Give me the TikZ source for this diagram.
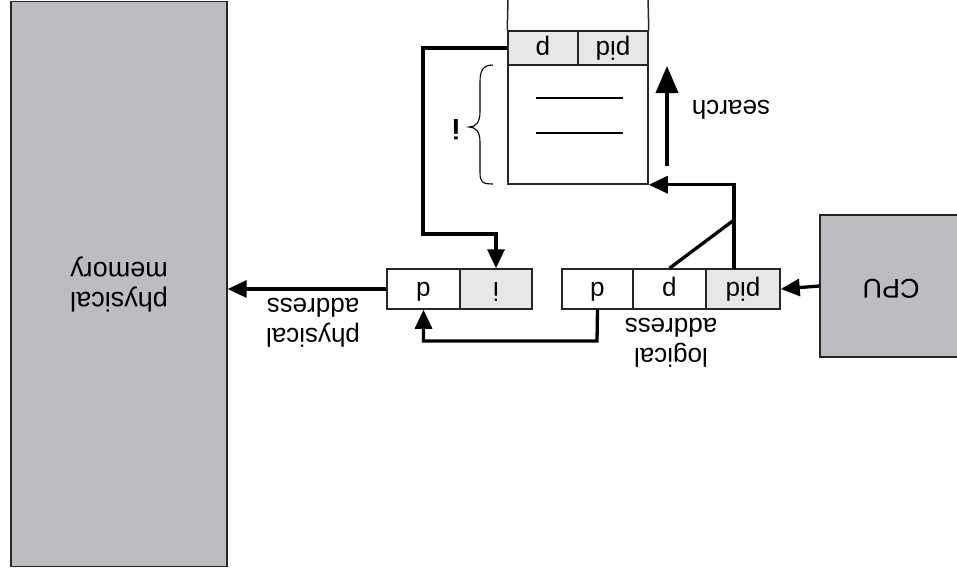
\documentclass[tikz,border=0pt]{standalone}
\usepackage{fontspec}
\setmainfont{Liberation Sans}
\usetikzlibrary{arrows.meta}
\definecolor{dgray}{HTML}{BCBDC1}
\definecolor{lgray}{HTML}{E6E7E8}
\newcommand{\updown}[1]{\rotatebox{180}{\vphantom{dp}#1}}
\tikzset{
  cell/.style={draw=black!85, line width=1.5pt, minimum height=40pt, inner sep=0pt, font=\fontsize{26}{28}\selectfont},
  bigbox/.style={draw=black!85, line width=1.3pt, fill=dgray, inner sep=0pt, align=center, font=\fontsize{27}{31}\selectfont},
  conn/.style={line width=3.3pt, -{Triangle[length=19pt,width=17pt]}},
  bigconn/.style={line width=3.8pt, -{Triangle[length=27pt,width=22pt]}},
  plainline/.style={line width=3.3pt},
  lbl/.style={rotate=180, align=center, font=\fontsize{26}{30}\selectfont}
}
\begin{document}
\begin{tikzpicture}[x=1pt,y=-1pt]
\useasboundingbox (0,0) rectangle (957,573);
% physical memory
\node[bigbox, minimum width=216pt, minimum height=565pt] (mem) at (119,284) {\rotatebox{180}{\begin{tabular}{@{}c@{}}physical\\[-1pt]memory\end{tabular}}};
% CPU
\node[bigbox, minimum width=142pt, minimum height=142pt] (cpu) at (891,286) {\updown{CPU}};
% logical address (pid | p | d, drawn upside down)
\node[cell, minimum width=71pt] (ldc) at (597.5,289) {\updown{d}};
\node[cell, minimum width=73pt] (lpc) at (669.5,289) {\updown{p}};
\node[cell, fill=lgray, minimum width=74pt] (lpid) at (743,289) {\updown{pid}};
% physical address (i | d)
\node[cell, minimum width=73pt] (pd) at (423.5,289) {\updown{d}};
\node[cell, fill=lgray, minimum width=72pt] (pi) at (496,289) {\updown{i}};
% table
\node[cell, fill=lgray, minimum width=70pt, minimum height=34pt] (tp) at (543,48) {\updown{p}};
\node[cell, fill=lgray, minimum width=70pt, minimum height=34pt] (tpid) at (613,48) {\updown{pid}};
\node[cell, minimum width=140pt, minimum height=119pt] (tbody) at (578,124.5) {};
\draw[line width=1.5pt, draw=black!85] (tp.north west) -- (508,-2);
\draw[line width=1.5pt, draw=black!85] (tpid.north east) -- (648,-2);
\draw[line width=1.3pt] (536,98) -- (623,98);
\draw[line width=1.3pt] (536,133) -- (623,133);
% brace
\coordinate (bt) at (493,65);
\coordinate (bb) at (493,184);
\coordinate (btip) at (469,127);
\draw[line width=1.1pt] (bt) .. controls (482,65) and (480,72) .. (480,82) -- (480,112)
  .. controls (480,122) and (476,127) .. (btip)
  .. controls (476,127) and (480,132) .. (480,142) -- (480,172)
  .. controls (480,182) and (482,184) .. (bb);
\node[lbl, font=\fontsize{28}{30}\selectfont\bfseries] (ilbl) at (456,130) {i};
% connectors
\draw[conn] (cpu.west) -- (lpid.east);
\draw[conn] (pd.west) -- (pd.west -| mem.east);
\coordinate (lpd) at (597,341);
\draw[conn] (ldc.south) -- (lpd) -| (pd.south);
\coordinate (pidup) at (734,269);
\coordinate (j) at (734,220);
\draw[conn] (pidup) |- (tbody.south east);
\draw[plainline] (lpc.north) -- (j);
\coordinate (c1) at (423,48);
\coordinate (c2) at (423,234);
\draw[conn] (tp.west) -- (c1) -- (c2) -| (pi.north);
\coordinate (s1) at (667,166);
\coordinate (s2) at (667,66);
\draw[bigconn] (s1) -- (s2);
% labels
\node[lbl] (slbl) at (731,110) {search};
\node[lbl] (plbl) at (313,323) {physical\\address};
\node[lbl] (llbl) at (671,343) {logical\\address};
\end{tikzpicture}
\end{document}
